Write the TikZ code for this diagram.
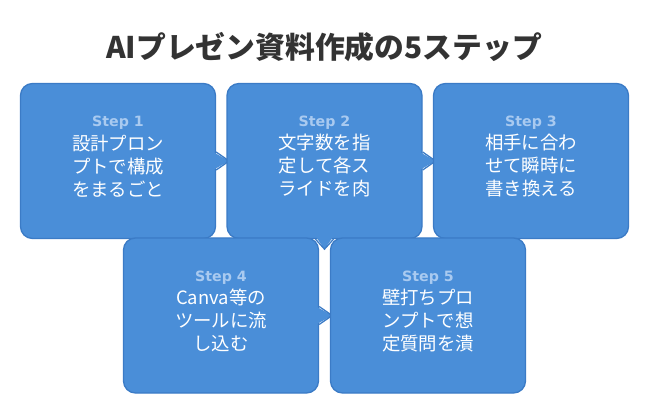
\documentclass[tikz,border=0pt]{standalone}
\usepackage{fontspec}
\setmainfont{Noto Sans CJK JP}
\newfontfamily\steplat{DejaVu Sans}
\usetikzlibrary{calc}
\definecolor{boxfill}{HTML}{4A8ED8}
\definecolor{boxline}{HTML}{3B7BC6}
\definecolor{steptxt}{HTML}{A9CAF0}
\definecolor{titletxt}{HTML}{333333}
\begin{document}
\begin{tikzpicture}[x=1pt,y=1pt,
  stepbox/.style={draw=boxline, fill=boxfill, line width=1.3pt, rounded corners=12pt,
    minimum width=195pt, minimum height=155pt, inner sep=0pt},
  steplabel/.style={text=steptxt, font=\steplat\fontsize{14.2}{16}\selectfont\bfseries},
  stepbody/.style={text=white, align=center, font=\fontsize{18.4}{23}\selectfont},
  ptrfill/.style={fill=boxfill},
  ptrline/.style={draw=boxline, line width=1.3pt, line join=miter}
]
\useasboundingbox (0,0) rectangle (650,415);
\node[text=titletxt, font=\fontsize{29.8}{33}\selectfont\bfseries] (title) at (324,368) {AIプレゼン資料作成の5ステップ};

% box 1
\node[stepbox] (b1) at (118,254) {};
\fill[ptrfill] ($(b1.east)+(-3,9)$) -- ($(b1.east)+(13,0)$) -- ($(b1.east)+(-3,-9)$) -- cycle;
\draw[ptrline] ($(b1.east)+(0,9)$) -- ($(b1.east)+(13,0)$) -- ($(b1.east)+(0,-9)$);
% box 2
\node[stepbox] (b2) at (324.5,254) {};
\fill[ptrfill] ($(b2.east)+(-3,9)$) -- ($(b2.east)+(13,0)$) -- ($(b2.east)+(-3,-9)$) -- cycle;
\draw[ptrline] ($(b2.east)+(0,9)$) -- ($(b2.east)+(13,0)$) -- ($(b2.east)+(0,-9)$);
\fill[ptrfill] ($(b2.south)+(-9,3)$) -- ($(b2.south)+(0,-10)$) -- ($(b2.south)+(9,3)$) -- cycle;
\draw[ptrline] ($(b2.south)+(-9,0)$) -- ($(b2.south)+(0,-10)$) -- ($(b2.south)+(9,0)$);
% box 3
\node[stepbox] (b3) at (531,254) {};
% box 4
\node[stepbox] (b4) at (221,99.5) {};
\fill[ptrfill] ($(b4.east)+(-3,9)$) -- ($(b4.east)+(13,0)$) -- ($(b4.east)+(-3,-9)$) -- cycle;
\draw[ptrline] ($(b4.east)+(0,9)$) -- ($(b4.east)+(13,0)$) -- ($(b4.east)+(0,-9)$);
% box 5
\node[stepbox] (b5) at (428,99.5) {};

% texts
\node[steplabel] (s1) at ($(b1.center)+(0,38)$) {Step 1};
\node[stepbody] (t1) at ($(b1.center)+(0,-5)$) {設計プロン\\プトで構成\\をまるごと};
\node[steplabel] (s2) at ($(b2.center)+(0,38)$) {Step 2};
\node[stepbody] (t2) at ($(b2.center)+(0,-5)$) {文字数を指\\定して各ス\\ライドを肉};
\node[steplabel] (s3) at ($(b3.center)+(0,38)$) {Step 3};
\node[stepbody] (t3) at ($(b3.center)+(0,-5)$) {相手に合わ\\せて瞬時に\\書き換える};
\node[steplabel] (s4) at ($(b4.center)+(0,38)$) {Step 4};
\node[stepbody] (t4) at ($(b4.center)+(0,-5)$) {Canva等の\\ツールに流\\し込む};
\node[steplabel] (s5) at ($(b5.center)+(0,38)$) {Step 5};
\node[stepbody] (t5) at ($(b5.center)+(0,-5)$) {壁打ちプロ\\ンプトで想\\定質問を潰};
\end{tikzpicture}
\end{document}
